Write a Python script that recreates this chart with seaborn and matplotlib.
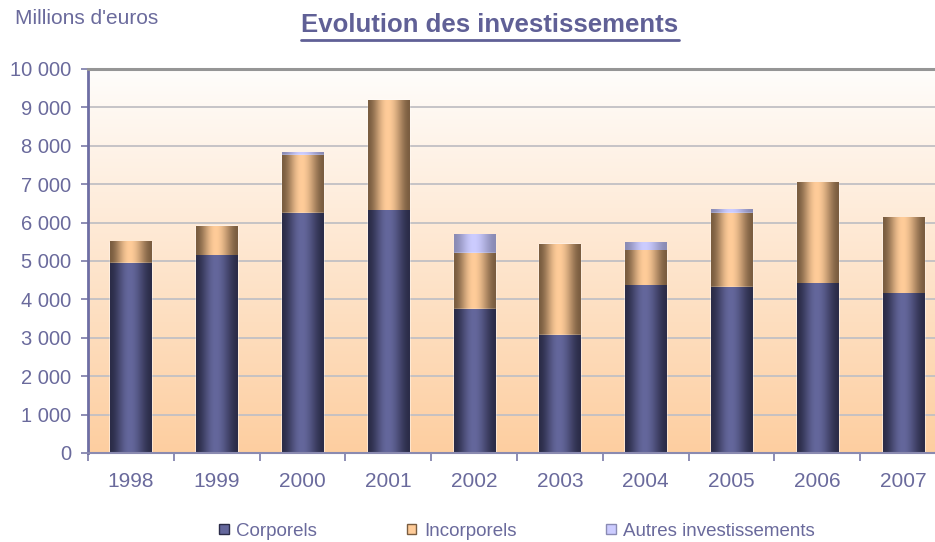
import numpy as np
import pandas as pd
import seaborn as sns
import matplotlib.pyplot as plt
from matplotlib.colors import LinearSegmentedColormap, to_rgb
from matplotlib.patches import Patch
from matplotlib.ticker import FuncFormatter, FixedLocator

years = ["1998", "1999", "2000", "2001", "2002", "2003", "2004", "2005", "2006", "2007"]
corporels = [4935, 5140, 6240, 6310, 3740, 3060, 4360, 4310, 4410, 4150]
incorporels = [570, 760, 1510, 2870, 1460, 2370, 910, 1930, 2630, 1980]
autres = [0, 0, 75, 0, 490, 0, 210, 100, 0, 0]
series_names = ["Corporels", "Incorporels", "Autres investissements"]

TEXT = "#6a6a9c"
# (dark edge, light centre) of each cylinder-like bar
SHADES = [("#2b2c48", "#64679c"), ("#7a5d40", "#ffcc99"), ("#8a8bb4", "#ccccff")]

sns.set_theme(style="white")
plt.rcParams["font.family"] = ["Liberation Sans", "DejaVu Sans"]

df = pd.DataFrame({"year": years, "Corporels": corporels,
                   "Incorporels": incorporels, "Autres": autres})
df["c1"] = df["Corporels"]
df["c2"] = df["c1"] + df["Incorporels"]
df["c3"] = df["c2"] + df["Autres"]

fig = plt.figure(figsize=(9.35, 5.42), dpi=100)
ax = fig.add_axes([88 / 935, 89 / 542, 858 / 935, 384 / 542])

# vertical background gradient of the plot area
bg = LinearSegmentedColormap.from_list("bg", ["#fdcea0", "#fffdfb"])
ax.imshow(np.linspace(0, 1, 256).reshape(-1, 1), cmap=bg, origin="lower",
          aspect="auto", extent=(-0.5, 9.5, 0, 10000), zorder=0)

# stacked bars: cumulative totals drawn from the top down
layers = []
for k, col in enumerate(["c3", "c2", "c1"]):
    n_before = len(ax.patches)
    sns.barplot(data=df, x="year", y=col, ax=ax, color=SHADES[2 - k][1],
                width=0.48, saturation=1, errorbar=None, zorder=2 + k)
    layers.append((2 - k, ax.patches[n_before:]))

# cylinder shading: dark edges, light band slightly left of centre
t = np.linspace(0, 1, 200)
peak = 0.47
profile = np.where(t < peak, t / peak, (1 - t) / (1 - peak))
profile = np.sin(profile * np.pi / 2) ** 1.8
for idx, patches in layers:
    dark, light = np.array(to_rgb(SHADES[idx][0])), np.array(to_rgb(SHADES[idx][1]))
    grad = dark[None, :] + profile[:, None] * (light - dark)[None, :]
    for p in patches:
        h = p.get_height()
        if h <= 0:
            continue
        x0 = p.get_x()
        ax.imshow(grad[None, :, :], aspect="auto", interpolation="bilinear",
                  extent=(x0, x0 + p.get_width(), 0, h), zorder=p.get_zorder() + 0.5)

ax.set_xlim(-0.5, 9.5)
ax.set_ylim(0, 10000)
ax.set_xlabel("")
ax.set_ylabel("")

ax.yaxis.set_major_locator(FixedLocator(np.arange(0, 10001, 1000)))
ax.yaxis.set_major_formatter(FuncFormatter(lambda v, _: f"{int(v):,}".replace(",", " ")))
ax.grid(axis="y", color="#c2c0c4", lw=1.3, zorder=1)
ax.set_axisbelow(False)
for line in ax.get_ygridlines():
    line.set_zorder(1)

ax.xaxis.set_minor_locator(FixedLocator(np.arange(-0.5, 10, 1)))
ax.tick_params(axis="x", which="major", length=0, pad=14, labelsize=15, labelcolor=TEXT)
ax.tick_params(axis="x", which="minor", length=6, width=1.2, color="#7a7aa8", bottom=True)
ax.tick_params(axis="y", length=5, width=1.2, color="#7a7aa8", left=True,
               pad=7, labelsize=14.5, labelcolor=TEXT)

ax.spines["right"].set_visible(False)
ax.spines["left"].set_color("#6e6ea4")
ax.spines["left"].set_linewidth(2)
ax.spines["bottom"].set_color("#8a8ab0")
ax.spines["bottom"].set_linewidth(1.5)
ax.spines["top"].set_color("#959595")
ax.spines["top"].set_linewidth(2.2)
for s in ax.spines.values():
    s.set_zorder(6)

fig.text(15 / 935, 1 - 19 / 542, "Millions d'euros", fontsize=15, color=TEXT,
         ha="left", va="center")
title = fig.text(490 / 935, 1 - 25 / 542, "Evolution des investissements",
                 fontsize=18.5, fontweight="bold", color="#606096",
                 ha="center", va="center")
fig.canvas.draw()
bb = title.get_window_extent().transformed(fig.transFigure.inverted())
fig.add_artist(plt.Line2D([bb.x0, bb.x1], [1 - 40 / 542] * 2, color="#606096",
                          lw=2, transform=fig.transFigure))

handles = [Patch(facecolor=SHADES[i][1], edgecolor=SHADES[i][0], lw=1)
           for i in range(3)]
fig.legend(handles, series_names, loc="center", bbox_to_anchor=(517 / 935, 1 - 531 / 542),
           ncol=3, frameon=False, fontsize=13.5, labelcolor=TEXT,
           handlelength=0.5, handleheight=0.5, handletextpad=0.4, columnspacing=4.8)

fig.savefig("out.png", dpi=100)
